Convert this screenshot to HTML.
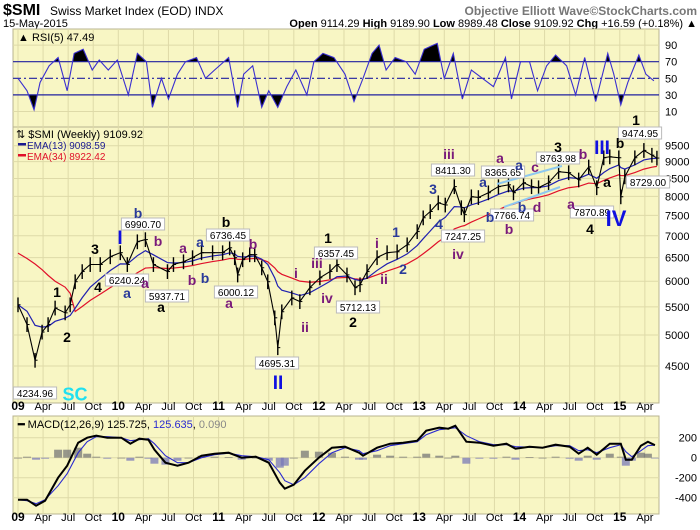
<!DOCTYPE html>
<html><head><meta charset="utf-8"><style>
body{margin:0;background:#fff;}
svg{display:block;font-family:"Liberation Sans",sans-serif;}
.ax{font-size:11px;fill:#000;}
.yr{font-size:12px;font-weight:bold;fill:#000;}
.lab{font-size:10px;fill:#000;}
</style></head><body>
<svg id="c" width="700" height="530" viewBox="0 0 700 530" xmlns="http://www.w3.org/2000/svg">
<text x="3" y="15" font-size="16" font-weight="bold">$SMI</text>
<text x="50" y="15" font-size="12">Swiss Market Index (EOD)  INDX</text>
<text x="697" y="15" font-size="12" font-weight="bold" fill="#777" text-anchor="end">Objective Elliott Wave©StockCharts.com</text>
<text x="3" y="27" font-size="11">15-May-2015</text>
<text x="697" y="27" font-size="11" text-anchor="end"><tspan font-weight="bold">Open</tspan> 9114.29  <tspan font-weight="bold">High</tspan> 9189.90  <tspan font-weight="bold">Low</tspan> 8989.48  <tspan font-weight="bold">Close</tspan> 9109.92  <tspan font-weight="bold">Chg</tspan> +16.59 (+0.18%) ▲</text>
<g id="g"></g>
</svg>
<script>
// ---- price data (weekly chart, sampled) ----
const priceDates=[2009.0,2009.09,2009.17,2009.24,2009.30,2009.37,2009.47,2009.52,2009.57,2009.64,2009.72,2009.82,2009.92,2010.02,2010.09,2010.19,2010.27,2010.35,2010.49,2010.55,2010.65,2010.74,2010.83,2010.94,2011.04,2011.11,2011.16,2011.19,2011.24,2011.31,2011.36,2011.43,2011.49,2011.56,2011.59,2011.63,2011.73,2011.81,2011.91,2012.01,2012.11,2012.18,2012.28,2012.36,2012.41,2012.48,2012.58,2012.68,2012.78,2012.88,2012.98,2013.04,2013.11,2013.19,2013.26,2013.35,2013.42,2013.45,2013.52,2013.59,2013.69,2013.79,2013.89,2013.94,2014.04,2014.12,2014.19,2014.29,2014.39,2014.49,2014.59,2014.69,2014.77,2014.84,2014.90,2014.99,2015.01,2015.05,2015.15,2015.24,2015.32,2015.37];
const priceClose=[5540,5180,4590,5050,5180,5480,5390,5540,5990,6200,6350,6350,6520,6610,6350,6860,6910,6350,6200,6350,6410,6500,6610,6610,6610,6720,6500,6130,6455,6565,6565,6280,5990,5300,4790,5410,5670,5600,5870,6070,6200,6350,6130,5870,5930,6200,6500,6610,6630,6790,7100,7440,7600,7830,7770,8270,7700,7520,7990,7970,8100,8270,8320,8100,8380,8270,8240,8380,8700,8670,8460,8840,8240,9120,9150,9120,7990,8550,9120,9350,9200,9110];
const priceTicks=[9500,9000,8500,8000,7500,7000,6500,6000,5500,5000,4500];
// ---- RSI(5) ----
const rsiDates=[2009.00,2009.09,2009.16,2009.22,2009.31,2009.40,2009.49,2009.56,2009.65,2009.74,2009.81,2009.90,2009.99,2010.10,2010.19,2010.28,2010.34,2010.43,2010.50,2010.59,2010.67,2010.78,2010.87,2010.96,2011.10,2011.19,2011.25,2011.34,2011.43,2011.50,2011.59,2011.68,2011.77,2011.88,2011.95,2012.04,2012.15,2012.26,2012.35,2012.44,2012.53,2012.60,2012.67,2012.76,2012.87,2012.96,2013.05,2013.14,2013.18,2013.25,2013.34,2013.43,2013.52,2013.63,2013.74,2013.86,2013.92,2014.01,2014.10,2014.18,2014.27,2014.36,2014.47,2014.56,2014.65,2014.76,2014.88,2014.94,2015.01,2015.08,2015.19,2015.26,2015.34];
const rsiValues=[50,35,12,45,65,75,35,80,85,60,72,60,72,30,80,70,15,50,25,55,70,75,50,60,75,15,55,65,15,35,15,40,60,30,70,80,75,55,22,50,80,90,60,75,70,55,85,90,92,50,80,25,60,50,40,75,25,70,70,35,65,78,65,30,75,22,80,55,18,45,78,55,47];
const rsiTicks=[90,70,50,30,10];
// ---- MACD(12,26,9) ----
const macdDates=[2009.00,2009.09,2009.18,2009.27,2009.40,2009.49,2009.60,2009.69,2009.78,2009.89,2010.03,2010.12,2010.21,2010.30,2010.36,2010.47,2010.59,2010.70,2010.83,2010.96,2011.10,2011.23,2011.37,2011.50,2011.61,2011.66,2011.75,2011.86,2012.00,2012.13,2012.26,2012.40,2012.44,2012.58,2012.71,2012.84,2012.98,2013.07,2013.20,2013.29,2013.36,2013.47,2013.60,2013.74,2013.87,2013.96,2014.10,2014.23,2014.36,2014.50,2014.59,2014.68,2014.77,2014.90,2015.01,2015.06,2015.12,2015.21,2015.28,2015.35];
const macdValues=[-420,-420,-480,-430,-200,-80,150,200,220,200,200,140,190,180,80,-50,-80,-50,20,40,50,0,10,-50,-250,-310,-270,-130,0,100,110,50,20,100,140,150,170,270,300,290,320,160,150,120,140,90,110,100,130,110,40,100,30,140,140,-20,-20,120,160,125];
const signalValues=[-420,-430,-460,-420,-280,-160,50,160,210,210,200,170,180,190,140,20,-50,-50,0,30,45,20,10,-20,-150,-230,-270,-200,-60,50,100,70,40,70,120,140,160,230,280,290,300,220,160,130,130,110,105,100,120,120,70,80,50,100,130,60,10,70,120,126];
const macdTicks=[200,0,-200,-400];
const yearLabels=['09','10','11','12','13','14','15'];
const monthLabels=['Apr','Jul','Oct'];

const NS='http://www.w3.org/2000/svg';
const G=document.getElementById('g');
function mk(tag,attrs,parent,txt){const e=document.createElementNS(NS,tag);for(const k in attrs)e.setAttribute(k,attrs[k]);if(txt!==undefined)e.textContent=txt;(parent||G).appendChild(e);return e;}
const L=13,R=659;
const X=t=>18+(t-2009)*100.3;
const PY=p=>145.7+(Math.log10(9500)-Math.log10(p))*679;
const RY=v=>78.3-(v-50)*0.83;
const MY=v=>457.7-v*0.1;
const BG='#f8f6c4',GR='#dedaa8';
const panels=[[29,127,'rsi-panel'],[127,403,'price-panel'],[416,514,'macd-panel']];
panels.forEach(p=>{const r=mk('rect',{x:L,y:p[0],width:R-L,height:p[1]-p[0],fill:BG,stroke:'#b8b490','stroke-width':1});

});
for(let yi=0;yi<7;yi++){for(let q=0;q<4;q++){const t=2009+yi+q*0.25;const x=X(t);if(x>R)continue;
 panels.forEach(p=>mk('line',{x1:x,x2:x,y1:p[0],y2:p[1],stroke:GR,'stroke-width':1}));}}
priceTicks.forEach(v=>{const y=PY(v);mk('line',{x1:L,x2:R,y1:y,y2:y,stroke:GR});
 const t=mk('text',{x:R+6,y:y+4,class:'ax'},G,String(v));
 
 });
rsiTicks.forEach(v=>{const y=RY(v);if(v!==70&&v!==30&&v!==50)mk('line',{x1:L,x2:R,y1:y,y2:y,stroke:GR});
 const t=mk('text',{x:R+6,y:y+4,class:'ax'},G,String(v));
 
 });
macdTicks.forEach(v=>{const y=MY(v);mk('line',{x1:L,x2:R,y1:y,y2:y,stroke:GR});
 const t=mk('text',{x:697,y:y+4,class:'ax','text-anchor':'end'},G,String(v));
 
 });
[410,521].forEach((ly,i)=>{yearLabels.forEach((yl,yi)=>{const x0=X(2009+yi);
 const t=mk('text',{x:x0,y:ly,class:'yr','text-anchor':'middle'},G,yl);
 
 
 monthLabels.forEach((m,mi)=>{const x=X(2009+yi+(mi+1)*0.25);if(x>R-5)return;
  const u=mk('text',{x:x,y:ly,class:'ax','text-anchor':'middle'},G,m);
  
  });});});
// RSI
const rsiPts=rsiDates.map((d,i)=>[X(d),RY(rsiValues[i])]);
const defs=mk('defs',{});
const c1=mk('clipPath',{id:'above'},defs);mk('rect',{x:L,y:29,width:R-L,height:RY(70)-29},c1);
const c2=mk('clipPath',{id:'below'},defs);mk('rect',{x:L,y:RY(30),width:R-L,height:127-RY(30)},c2);
const ptsStr=rsiPts.map(p=>p.join(',')).join(' ');
const fa=mk('polygon',{points:ptsStr+` ${rsiPts[rsiPts.length-1][0]},${RY(70)} ${rsiPts[0][0]},${RY(70)}`,fill:'#000','clip-path':'url(#above)'});


const fb=mk('polygon',{points:ptsStr+` ${rsiPts[rsiPts.length-1][0]},${RY(30)} ${rsiPts[0][0]},${RY(30)}`,fill:'#000','clip-path':'url(#below)'});


[[70,''],[30,''],[50,'8,3,2,3']].forEach(a=>mk('line',{x1:L,x2:R,y1:RY(a[0]),y2:RY(a[0]),stroke:'#2020a0','stroke-width':1.2,'stroke-dasharray':a[1]}));
const rl=mk('polyline',{points:ptsStr,fill:'none',stroke:'#3a2fd0','stroke-width':1.1});


mk('text',{x:18,y:41,'font-size':11},G,'▲ RSI(5) 47.49');
// EMAs
function ema(tau){let out=[],e=priceClose[0];priceDates.forEach((d,i)=>{if(i>0){const a=1-Math.exp(-(d-priceDates[i-1])/tau);e=e+a*(priceClose[i]-e);}out.push(e);});return out;}
const e13=ema(0.22),e34=ema(0.55);
const e34s=e34.map((v,i)=>i<8?Math.max(v,6600-i*120):v);
const el34=mk('polyline',{points:priceDates.map((d,i)=>X(d)+','+PY(e34s[i])).join(' '),fill:'none',stroke:'#e0102a','stroke-width':1.2});


const el13=mk('polyline',{points:priceDates.map((d,i)=>X(d)+','+PY(e13[i])).join(' '),fill:'none',stroke:'#2020b0','stroke-width':1.2});


priceDates.forEach((d,i)=>{const x=X(d),p=priceClose[i];
 const b=mk('line',{x1:x,x2:x,y1:PY(p*1.025),y2:PY(p*0.975),stroke:'#000','stroke-width':1.4});
 
 
 mk('line',{x1:x,x2:x+2.5,y1:PY(p),y2:PY(p),stroke:'#000','stroke-width':1});});
const pl=mk('polyline',{points:priceDates.map((d,i)=>X(d)+','+PY(priceClose[i])).join(' '),fill:'none',stroke:'#000','stroke-width':1.1});


mk('text',{x:16,y:138,'font-size':11},G,'⇅ $SMI (Weekly) 9109.92');
mk('rect',{x:18,y:143,width:8,height:2.5,fill:'#1a1a90'});mk('text',{x:27,y:149,'font-size':10,fill:'#1a1a90'},G,'EMA(13) 9098.59');
mk('rect',{x:18,y:154,width:8,height:2.5,fill:'#e0102a'});mk('text',{x:27,y:160,'font-size':10,fill:'#e0102a'},G,'EMA(34) 8922.42');
[[497,184,562,166],[504,207,560,187]].forEach(l=>mk('line',{x1:l[0],y1:l[1],x2:l[2],y2:l[3],stroke:'#8ec8f0','stroke-width':2}));
[['6990.70',143,224],['6240.24',127,280],['5937.71',167,296],['6736.45',228,235],['6000.12',236,292],['6357.45',336,253],['4695.31',277,363],['4234.96',35,393],['8411.30',453,170],['7247.25',463,236],['5712.13',358,307],['8365.65',503,172],['8763.98',558,158],['7766.74',512,215],['7870.89',592,212],['9474.95',640,133],['8729.00',648,182]].forEach(b=>{
 const w=b[0].length*5.6+4;const r=mk('rect',{x:b[1]-w/2,y:b[2]-6,width:w,height:12,fill:'#fff',stroke:'#bbb'});
 
 
 mk('text',{x:b[1],y:b[2]+4,class:'lab','text-anchor':'middle'},G,b[0]);});
const K='#000',N='#2a3a9a',P='#7a1a7a',B='#1010e0';
[['b',138,213,N,14],['I',120,237,B,19],['b',158,241,P,14],['a',183,248,P,14],['a',200,242,N,14],['b',226,222,K,14],['b',253,244,P,14],['3',95,249,K,14],['1',57,292,K,14],['4',98,287,K,14],['2',67,337,K,14],['a',145,283,P,14],['a',127,293,N,14],['a',161,307,K,14],['b',192,280,P,14],['b',205,278,N,14],['a',229,303,P,14],['i',296,273,P,14],['iii',317,263,P,14],['1',328,238,K,14],['iv',327,298,P,14],['ii',305,327,P,14],['II',278,382,B,19],['SC',75,394,'#20e0f0',18],['iii',449,154,P,14],['3',433,189,N,14],['1',396,232,N,14],['i',377,243,P,14],['4',439,224,N,14],['iv',458,254,P,14],['2',403,269,N,14],['ii',384,279,P,14],['2',353,322,K,14],['a',500,158,P,14],['a',483,182,N,14],['a',519,165,N,14],['c',535,167,P,14],['3',558,147,K,14],['b',583,154,P,14],['III',602,147,B,19],['b',620,143,K,14],['1',636,120,K,14],['a',607,182,K,14],['b',490,217,N,14],['b',522,207,N,14],['d',537,207,P,14],['b',509,229,P,14],['a',571,204,P,14],['4',590,229,K,14],['IV',616,218,B,22]].forEach(w=>{
 const t=mk('text',{x:w[1],y:w[2]+w[4]*0.36,'text-anchor':'middle','font-size':w[4],'font-weight':'bold',fill:w[3]},G,w[0]);
 
 });
// MACD
const zy=MY(0);
macdDates.forEach((d,i)=>{const h=macdValues[i]-signalValues[i];const y=MY(h);
 const b=mk('rect',{x:X(d)-4,y:Math.min(y,zy),width:8,height:Math.max(0.8,Math.abs(y-zy)),fill:h>=0?'#777':'#7a7ab8',opacity:0.75});
 
 });
const sl=mk('polyline',{points:macdDates.map((d,i)=>X(d)+','+MY(signalValues[i])).join(' '),fill:'none',stroke:'#2a2ad0','stroke-width':1.1});


const ml=mk('polyline',{points:macdDates.map((d,i)=>X(d)+','+MY(macdValues[i])).join(' '),fill:'none',stroke:'#000','stroke-width':2});


const mt=mk('text',{x:18,y:428,'font-size':11},G);
mt.innerHTML='<tspan font-weight="bold">━</tspan> MACD(12,26,9) 125.725, <tspan fill="#2a2ad0">125.635</tspan>, <tspan fill="#888">0.090</tspan>';
</script>
</body></html>
